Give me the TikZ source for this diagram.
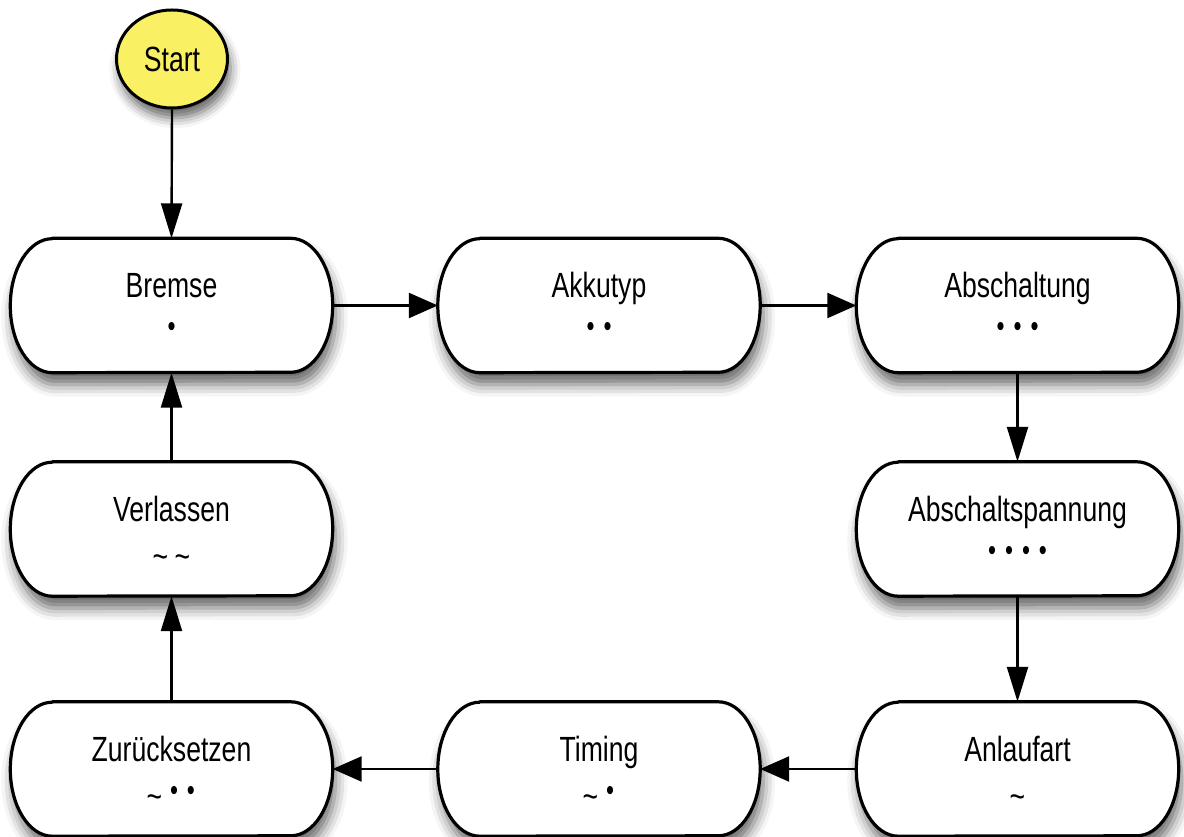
\documentclass[tikz,border=0pt]{standalone}
\usepackage{fontspec}
\setmainfont[FakeStretch=0.76]{Liberation Sans}
\usetikzlibrary{arrows.meta,shapes.geometric,shadows.blur}
\definecolor{startyellow}{RGB}{250,240,100}
\newcommand\rx{42pt}
\newcommand\mdot{\makebox[17pt]{\fontsize{30pt}{30pt}\selectfont •}}
\newcommand\mtil{\makebox[22pt]{\raisebox{-8pt}{\textasciitilde}}}
\tikzset{
  boxnode/.style={rectangle, minimum width=322pt, minimum height=134pt, inner sep=0pt},
  boxline/.style={line width=3.2pt, fill=white, line join=round,
    blur shadow={shadow xshift=3pt, shadow yshift=-12pt, shadow blur radius=12pt, shadow opacity=60}},
  titletext/.style={anchor=base, inner sep=0pt, font=\fontsize{35pt}{40pt}\selectfont},
  marktext/.style={anchor=base, inner sep=0pt, font=\fontsize{35pt}{40pt}\selectfont},
  startnode/.style={ellipse, minimum width=111pt, minimum height=98pt, inner sep=0pt,
    draw, line width=3pt, fill=startyellow, font=\fontsize{35pt}{40pt}\selectfont,
    blur shadow={shadow xshift=3pt, shadow yshift=-10pt, shadow blur radius=10pt, shadow opacity=60}},
  varr/.style={line width=2.4pt, draw=black, opacity=1, fill opacity=1,
    -{Triangle[length=35pt,width=21pt,fill=black,color=black]}},
  harr/.style={line width=2.4pt, draw=black, opacity=1, fill opacity=1,
    -{Triangle[length=29pt,width=25pt,fill=black,color=black]}},
}
\newcommand\stbox[5]{%
  \node[boxnode] (#1) at (#2,#3) {};
  \draw[boxline] ([xshift=\rx]#1.north west) -- ([xshift=-\rx]#1.north east)
     arc[start angle=90,end angle=-90,x radius=\rx,y radius=67pt]
     -- ([xshift=\rx]#1.south west)
     arc[start angle=270,end angle=90,x radius=\rx,y radius=67pt] -- cycle;
  \node[titletext] at ([yshift=7.5pt]#1.center) {#4};
  \node[marktext] at ([yshift=-31.5pt]#1.center) {#5};
}
\begin{document}
\begin{tikzpicture}[x=1pt,y=1pt]
\useasboundingbox (0,0) rectangle (1184,837);
\node[startnode] (start) at (172,778) {Start};
\stbox{bremse}{171.5}{531.5}{Bremse}{\mdot}
\stbox{akkutyp}{599}{531.5}{Akkutyp}{\mdot\mdot}
\stbox{abschaltung}{1017.5}{531.5}{Abschaltung}{\mdot\mdot\mdot}
\stbox{verlassen}{171.5}{308}{Verlassen}{\mtil\mtil}
\stbox{abspannung}{1017.5}{308}{Abschaltspannung}{\mdot\mdot\mdot\mdot}
\stbox{zuruck}{171.5}{68}{Zurücksetzen}{\mtil\mdot\mdot}
\stbox{timing}{599}{68}{Timing}{\mtil\mdot}
\stbox{anlaufart}{1017.5}{68}{Anlaufart}{\mtil}
\draw[varr] (start.south) -- (bremse.north);
\draw[harr] (bremse.east) -- (akkutyp.west);
\draw[harr] (akkutyp.east) -- (abschaltung.west);
\draw[varr] (abschaltung.south) -- (abspannung.north);
\draw[varr] (abspannung.south) -- (anlaufart.north);
\draw[harr] (anlaufart.west) -- (timing.east);
\draw[harr] (timing.west) -- (zuruck.east);
\draw[varr] (zuruck.north) -- (verlassen.south);
\draw[varr] (verlassen.north) -- (bremse.south);
\end{tikzpicture}
\end{document}
